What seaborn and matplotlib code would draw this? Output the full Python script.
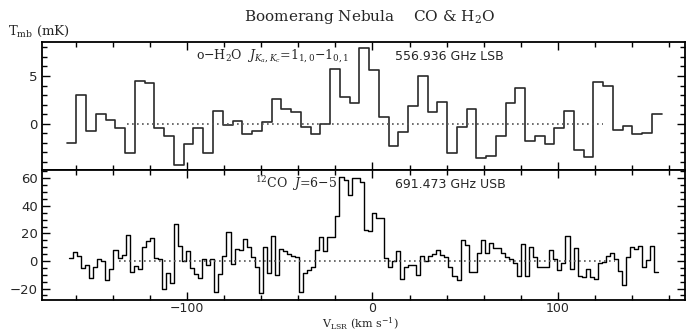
import numpy as np
import pandas as pd
import matplotlib
matplotlib.use("Agg")
import matplotlib.pyplot as plt
from matplotlib.ticker import MultipleLocator
import seaborn as sns

# ---------------- data ----------------
# o-H2O 1(1,0)-1(0,1) spectrum (mK), channel start velocity & width (km/s)
H2O_V0 = -164.9
H2O_DV = 5.26
h2o_tmb = [
    -2.06, 3.0, -0.77, 0.98, 0.35, -0.42, -3.1, 4.5, 4.3, -0.49,
    -1.26, -4.34, -2.17, -0.42, -3.1, 1.36, -0.14, 0.31, -1.12, -0.77,
    0.21, 2.55, 1.5, 1.19, -0.35, -1.05, 0.0, 5.7, 2.85, 2.2,
    7.9, 5.66, 0.7, -2.38, -0.87, 1.85, 5.03, 1.19, 2.27, -3.08,
    -0.35, 1.54, -3.57, -3.43, -1.26, 2.2, 3.78, -1.82, -1.33, -2.1,
    -0.49, 1.33, -2.8, -3.5, 4.37, 3.92, -0.7, -0.28, -1.05, -0.94,
    1.05,
]

# 12CO J=6-5 spectrum (mK)
CO_V0 = -163.6
CO_DV = 2.176
co_tmb = [
    1.9, 6.8, 3.6, -5.3, -2.9, -12.6, -4.1, 1.2, 0.0, -13.8,
    -6.0, 8.0, 1.9, 4.4, 18.6, -7.7, -3.4, -5.8, 10.4, 14.8,
    16.9, 1.9, 1.2,
    -20.6, -8.9, -15.7, 26.6, 10.9, 0.2, 7.5, -5.3, -9.7, -12.6,
    1.5, -2.9, 1.5, -22.2, -9.4, 3.6, 21.0, -2.4, 8.5, 8.0,
    16.0, 10.4, 3.1,
    -4.6, -23.5, 10.0, -9.0, 18.4, -10.0, 8.5, 7.0, 5.0, 3.6,
    2.6, -22.2,
    -8.5, -6.5, -4.6, 8.0, 17.7, 7.0, 17.5, 17.5, 32.4, 61.0,
    59.0, 48.0, 60.0, 60.0, 57.0,
    22.5, 22.0, 35.0, 31.4, 31.4, 1.9, -4.6, 0.2, 7.5, -13.3,
    -4.1, -3.1, -2.7, -10.2, 3.9, 0.2, 3.6, 5.1, 8.0, 4.4,
    3.1, -4.1, -10.9,
    -13.5, 15.2, 11.6, -7.7, -7.7, 5.6, 15.2, 6.0, 13.0, 9.2,
    9.2, 5.6, 2.7, 1.2, -1.2, -10.9, 12.3, -10.9, 10.4, 2.7,
    -4.1, -4.1, -4.6, 8.0, 1.2, -6.5,
    -1.7, 18.1, -6.0, 9.2, -10.9, -11.4, -6.0, -11.8, -13.3, -1.2,
    -0.5, 3.6, 6.0, 1.2, -7.0, -17.4, 2.7, 10.4, 8.5, 10.9,
    -4.1, 0.7, 10.9, -7.7,
]

# baseline windows (km/s)
h2o_base = [-132.5, 124.2]
co_base = [-136.6, 131.0]

title = "Boomerang Nebula    CO & H$_2$O"
h2o_line = "o\u2212H$_2$O  $J_{K_a,K_c}$=1$_{1,0}$\u22121$_{0,1}$"
h2o_freq = "556.936 GHz LSB"
co_line = "$^{12}$CO  $J$=6\u22125"
co_freq = "691.473 GHz USB"
ylab = "T$_{\\rm mb}$ (mK)"
xlab = "V$_{\\rm LSR}$ (km s$^{-1}$)"

# ---------------- plot ----------------
sns.set_theme(style="ticks")
plt.rcParams["font.family"] = ["DejaVu Sans"]
plt.rcParams["mathtext.fontset"] = "dejavuserif"

fig = plt.figure(figsize=(6.99, 3.31), dpi=100)
W, H = 699.0, 331.0
ax1 = fig.add_axes([42 / W, 1 - 170 / H, 643 / W, 128 / H])
ax2 = fig.add_axes([42 / W, 1 - 300 / H, 643 / W, 130 / H], sharex=ax1)

def spectrum(ax, v0, dv, vals, color, lw):
    n = len(vals)
    edges = v0 + dv * np.arange(n + 1)
    y = np.append(np.asarray(vals, float), vals[-1])
    df = pd.DataFrame({"v": edges, "t": y})
    sns.lineplot(data=df, x="v", y="t", drawstyle="steps-post", color=color,
                 lw=lw, ax=ax, estimator=None, sort=False)

spectrum(ax1, H2O_V0, H2O_DV, h2o_tmb, "#2a2a2a", 1.2)
spectrum(ax2, CO_V0, CO_DV, co_tmb, "black", 1.0)

for ax, base in ((ax1, h2o_base), (ax2, co_base)):
    sns.lineplot(x=base, y=[0, 0], ax=ax, color="#555555", lw=1.2,
                 linestyle=(0, (1, 2)))

ax1.set_xlim(-178.2, 168.5)
ax1.set_ylim(-4.86, 8.57)
ax2.set_ylim(-28.3, 66.0)

ax1.yaxis.set_major_locator(MultipleLocator(5))
ax1.yaxis.set_minor_locator(MultipleLocator(1))
ax2.yaxis.set_major_locator(MultipleLocator(20))
ax2.yaxis.set_minor_locator(MultipleLocator(5))
for ax in (ax1, ax2):
    ax.xaxis.set_major_locator(MultipleLocator(100))
    ax.xaxis.set_minor_locator(MultipleLocator(20))
    ax.tick_params(which="both", direction="in", top=True, right=True,
                   color="black", width=1.0, labelsize=9.5, pad=3)
    ax.tick_params(which="major", length=6)
    ax.tick_params(which="minor", length=3.5)
    for s in ax.spines.values():
        s.set_linewidth(1.3)
        s.set_color("black")
    ax.set_xlabel("")
    ax.set_ylabel("")
ax1.tick_params(labelbottom=False)
ax2.tick_params(axis="x", pad=1.5, labelsize=9)

fig.text(370 / W, 1 - 17 / H, title, ha="center", va="center",
         fontsize=11, family="DejaVu Serif")
fig.text(8 / W, 1 - 31 / H, ylab, ha="left", va="center", fontsize=9.5,
         family="DejaVu Serif")
fig.text(196 / W, 1 - 56 / H, h2o_line, ha="left", va="center",
         fontsize=9, family="DejaVu Serif")
fig.text(395 / W, 1 - 56 / H, h2o_freq, ha="left", va="center", fontsize=9)
fig.text(255 / W, 1 - 184 / H, co_line, ha="left", va="center",
         fontsize=9, family="DejaVu Serif")
fig.text(395 / W, 1 - 184 / H, co_freq, ha="left", va="center", fontsize=9)
fig.text(322 / W, 1 - 324 / H, xlab, ha="left", va="center", fontsize=8,
         family="DejaVu Serif")

fig.savefig("out.png", dpi=100)
